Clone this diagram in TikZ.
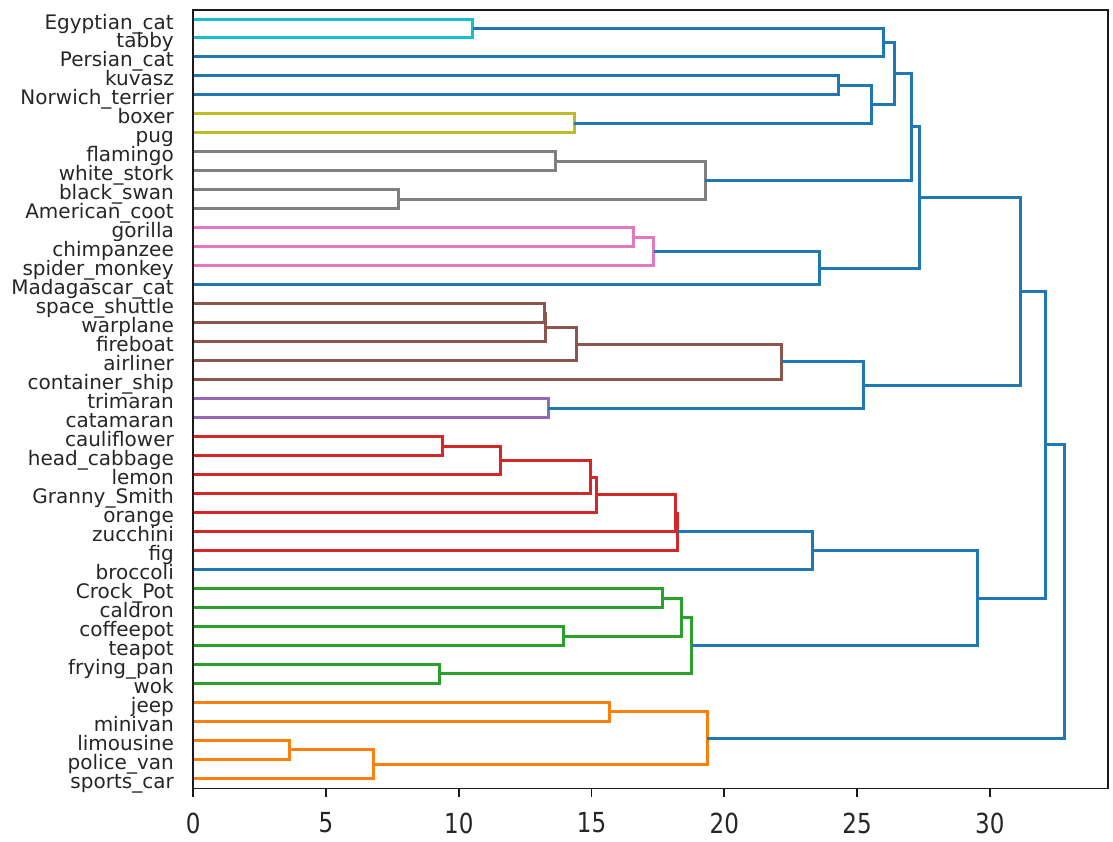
\documentclass[tikz,border=0pt]{standalone}
\usepackage{fontspec}
\setmainfont{DejaVu Sans}
\usetikzlibrary{calc}
\definecolor{cB}{HTML}{1F77B4}
\definecolor{cO}{HTML}{FF7F0E}
\definecolor{cG}{HTML}{2CA02C}
\definecolor{cR}{HTML}{D62728}
\definecolor{cP}{HTML}{9467BD}
\definecolor{cBr}{HTML}{8C564B}
\definecolor{cPk}{HTML}{E377C2}
\definecolor{cGy}{HTML}{7F7F7F}
\definecolor{cOl}{HTML}{BCBD22}
\definecolor{cC}{HTML}{17BECF}
\newcommand\dmerge[5]{%
  \coordinate (mid#1) at ($(#2)!0.5!(#3)$);
  \coordinate (hh#1) at (#4,0);
  \coordinate (#1) at (hh#1 |- mid#1);
  \draw[link,#5] (#2) -- (#2 -| #1) -- (#3 -| #1) -- (#3);
}
\tikzset{
  link/.style={line width=3pt, line join=miter},
  spine/.style={line width=1.7pt, black!90},
  leaf/.style={inner sep=0pt, font=\fontsize{20}{24}\selectfont, text=black!85},
  ticklab/.style={inner sep=0pt, font=\fontsize{23}{26}\selectfont, text=black!85, anchor=north}
}
\begin{document}
\begin{tikzpicture}[x=1pt, y=-1pt]
\useasboundingbox (0,0) rectangle (1113,841);
\begin{scope}[xshift=193.3pt, x=26.55pt]
\foreach \lab [count=\i from 0] in {Egyptian\_cat, tabby, Persian\_cat, kuvasz, Norwich\_terrier, boxer, pug, flamingo, white\_stork, black\_swan, American\_coot, gorilla, chimpanzee, spider\_monkey, Madagascar\_cat, space\_shuttle, warplane, fireboat, airliner, container\_ship, trimaran, catamaran, cauliflower, head\_cabbage, lemon, Granny\_Smith, orange, zucchini, fig, broccoli, Crock\_Pot, caldron, coffeepot, teapot, frying\_pan, wok, jeep, minivan, limousine, police\_van, sports\_car}{
  \coordinate (L\i) at (0,{19+18.985*\i});
  \node[leaf, anchor=base east] (T\i) at ([xshift=-19.3pt, yshift=-10pt]L\i) {\lab};
}
\dmerge{a1}{L0}{L1}{10.53}{cC}
\dmerge{a2}{a1}{L2}{25.98}{cB}
\dmerge{a3}{L3}{L4}{24.30}{cB}
\dmerge{a4}{L5}{L6}{14.35}{cOl}
\dmerge{a5}{a3}{a4}{25.54}{cB}
\dmerge{a6}{a2}{a5}{26.40}{cB}
\dmerge{b1}{L7}{L8}{13.66}{cGy}
\dmerge{b2}{L9}{L10}{7.71}{cGy}
\dmerge{b3}{b1}{b2}{19.28}{cGy}
\dmerge{a7}{a6}{b3}{27.05}{cB}
\dmerge{p1}{L11}{L12}{16.59}{cPk}
\dmerge{p2}{p1}{L13}{17.34}{cPk}
\dmerge{p3}{p2}{L14}{23.60}{cB}
\dmerge{a8}{a7}{p3}{27.34}{cB}
\dmerge{v1}{L15}{L16}{13.22}{cBr}
\dmerge{v2}{v1}{L17}{13.26}{cBr}
\dmerge{v3}{v2}{L18}{14.44}{cBr}
\dmerge{v4}{v3}{L19}{22.15}{cBr}
\dmerge{v5}{L20}{L21}{13.37}{cP}
\dmerge{v6}{v4}{v5}{25.25}{cB}
\dmerge{av}{a8}{v6}{31.16}{cB}
\dmerge{f1}{L22}{L23}{9.39}{cR}
\dmerge{f2}{f1}{L24}{11.58}{cR}
\dmerge{f3}{f2}{L25}{14.97}{cR}
\dmerge{f4}{f3}{L26}{15.17}{cR}
\dmerge{f5}{f4}{L27}{18.16}{cR}
\dmerge{f6}{f5}{L28}{18.25}{cR}
\dmerge{f7}{f6}{L29}{23.33}{cB}
\dmerge{k1}{L30}{L31}{17.68}{cG}
\dmerge{k2}{L32}{L33}{13.94}{cG}
\dmerge{k3}{k1}{k2}{18.37}{cG}
\dmerge{k4}{L34}{L35}{9.29}{cG}
\dmerge{k5}{k3}{k4}{18.78}{cG}
\dmerge{fk}{f7}{k5}{29.52}{cB}
\dmerge{all}{av}{fk}{32.09}{cB}
\dmerge{c1}{L36}{L37}{15.68}{cO}
\dmerge{c2}{L38}{L39}{3.64}{cO}
\dmerge{c3}{c2}{L40}{6.77}{cO}
\dmerge{c4}{c1}{c3}{19.36}{cO}
\dmerge{root}{all}{c4}{32.83}{cB}
% axes frame and ticks
\coordinate (fNW) at (0,10);
\coordinate (fSE) at (34.45,788.5);
\draw[spine] (fNW) rectangle (fSE);
\foreach \v in {0,5,...,30}{
  \coordinate (tk\v) at (\v,788.5);
  \draw[spine] (tk\v) -- ++(0,8);
  \node[ticklab] (tl\v) at ([yshift=-24pt]tk\v) {\scalebox{1}[1.2]{\v}};
}
\end{scope}
\end{tikzpicture}
\end{document}
